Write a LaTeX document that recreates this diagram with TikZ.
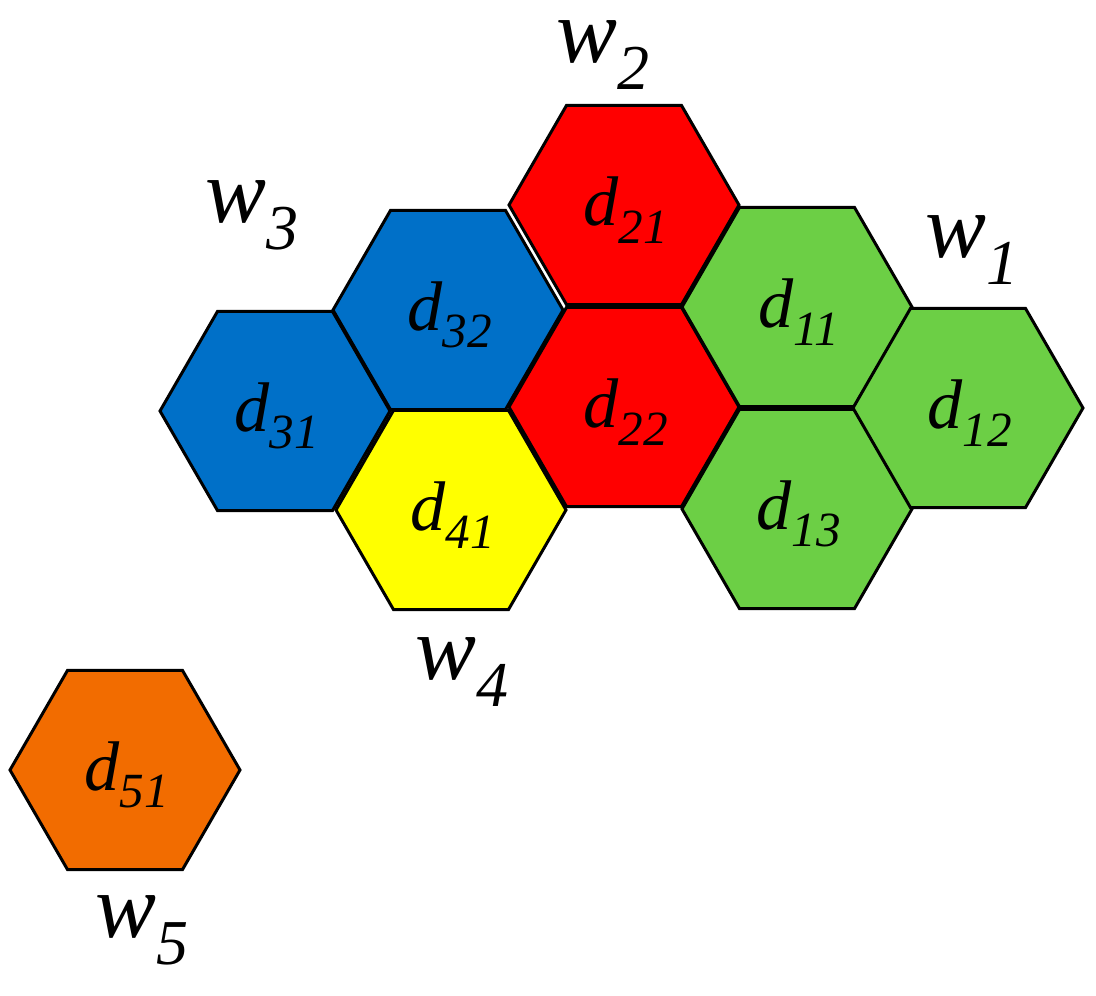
\documentclass[tikz,border=0pt]{standalone}
\usepackage{fontspec}
\setmainfont{Liberation Serif}
\definecolor{hgreen}{HTML}{6CCF45}
\definecolor{hblue}{HTML}{0070C8}
\definecolor{hred}{HTML}{FF0000}
\definecolor{hyellow}{HTML}{FFFF00}
\definecolor{horange}{HTML}{F26C00}
\tikzset{hexcell/.style={draw=black,line width=1.7pt,line join=miter},
 dlab/.style={font=\fontsize{40}{40}\selectfont\itshape,inner sep=0pt},
 wlab/.style={font=\fontsize{52}{52}\selectfont\itshape,inner sep=0pt}}
\newcommand{\hexat}[4]{%
 \fill[#3] (#1,#2) +(0:115) -- +(60:115) -- +(120:115) -- +(180:115) -- +(240:115) -- +(300:115) -- cycle;
 \draw[hexcell] (#1,#2) +(0:115) -- +(60:115) -- +(120:115) -- +(180:115) -- +(240:115) -- +(300:115) -- cycle;
 \node[dlab] (d#4) at (#1+2,#2+5) {d\textsubscript{#4}};}
\begin{document}
\begin{tikzpicture}[x=0.02cm,y=-0.02cm]
\useasboundingbox (0,0) rectangle (1096,996);
\hexat{275}{411}{hblue}{31}
\hexat{448}{310}{hblue}{32}
\hexat{624}{205}{hred}{21}
\hexat{624}{407}{hred}{22}
\hexat{451}{510}{hyellow}{41}
\hexat{797}{307}{hgreen}{11}
\hexat{797}{509}{hgreen}{13}
\hexat{968}{408}{hgreen}{12}
\hexat{125}{770}{horange}{51}
\node[wlab] (w2) at (603,55) {w\textsubscript{2}};
\node[wlab] (w3) at (252,215) {w\textsubscript{3}};
\node[wlab] (w1) at (972,250) {w\textsubscript{1}};
\node[wlab] (w4) at (462,672) {w\textsubscript{4}};
\node[wlab] (w5) at (142,930) {w\textsubscript{5}};
\end{tikzpicture}
\end{document}
